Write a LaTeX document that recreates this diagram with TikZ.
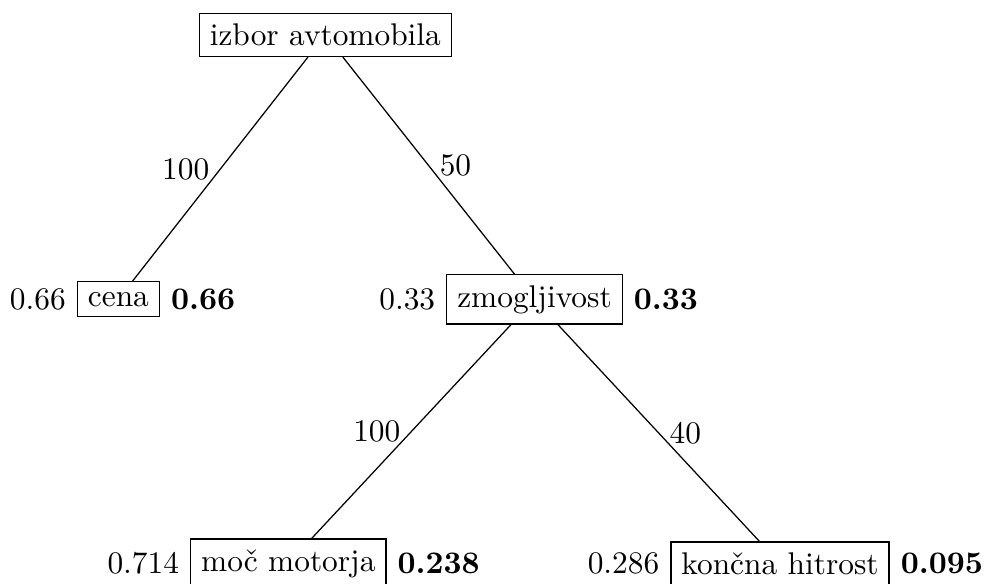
\documentclass[tikz,border=0pt]{standalone}
\usetikzlibrary{positioning}
\tikzset{
  box/.style={draw, inner sep=3.33pt},
  side/.style={inner sep=3.33pt},
  wt/.style={midway, inner sep=3.33pt}
}
\begin{document}
\begin{tikzpicture}[x=0.3188pt, y=-0.3188pt]
\useasboundingbox (0,0) rectangle (984,583);
\node[box] (root) at (325.3,34.9) {izbor avtomobila};
\node[box] (cena) at (118.4,299.2) {cena};
\node[box] (zmog) at (534.5,299.4) {zmogljivost};
\node[box] (moc) at (288.3,563.5) {moč motorja};
\node[box] (konc) at (780,563.5) {končna hitrost};
\node[side, left=0pt of cena] (cenaL) {0.66};
\node[side, right=0pt of cena] (cenaR) {\textbf{0.66}};
\node[side, left=0pt of zmog] (zmogL) {0.33};
\node[side, right=0pt of zmog] (zmogR) {\textbf{0.33}};
\node[side, left=0pt of moc] (mocL) {0.714};
\node[side, right=0pt of moc] (mocR) {\textbf{0.238}};
\node[side, left=0pt of konc] (koncL) {0.286};
\node[side, right=0pt of konc] (koncR) {\textbf{0.095}};
\draw (root) -- node[wt, left] (w1) {100} (cena);
\draw (root) -- node[wt, right] (w2) {50} (zmog);
\draw (zmog) -- node[wt, left] (w3) {100} (moc);
\draw (zmog) -- node[wt, right] (w4) {40} (konc);
\end{tikzpicture}
\end{document}
